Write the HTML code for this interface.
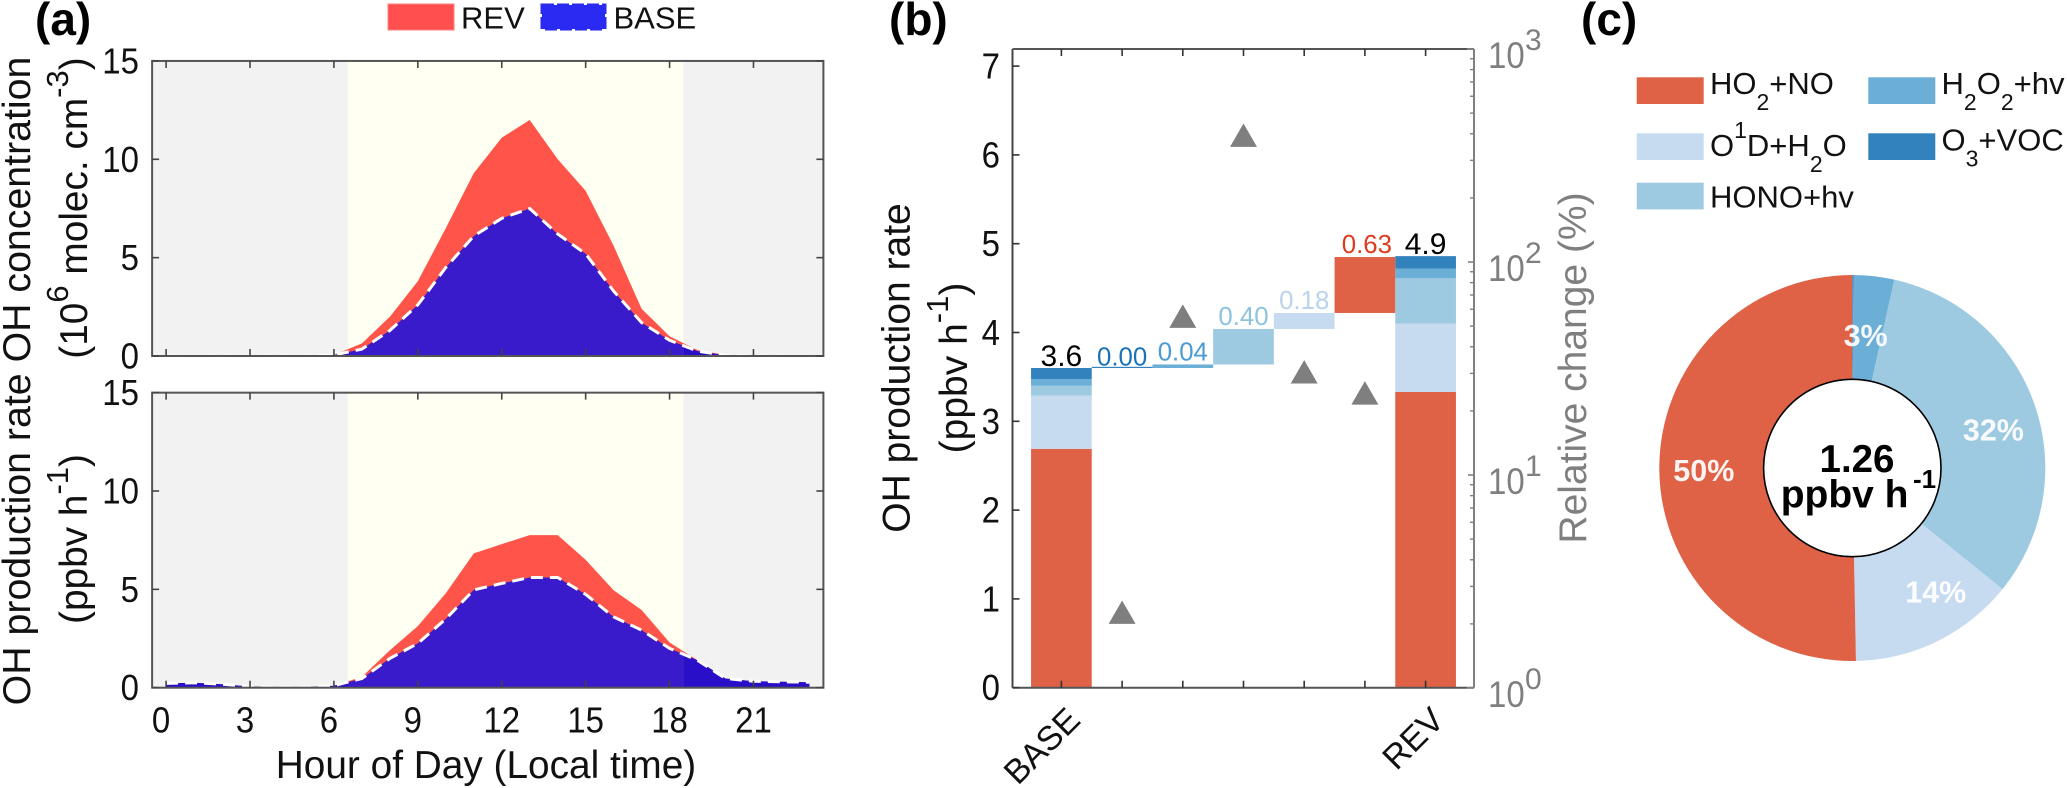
<!DOCTYPE html>
<html lang="en">
<head>
<meta charset="utf-8">
<title>OH concentration and production rate</title>
<style>
html,body{margin:0;padding:0;background:#fff;width:2067px;height:788px;overflow:hidden}
svg{display:block;font-family:"Liberation Sans",sans-serif}
</style>
</head>
<body>
<svg id="fig" xmlns="http://www.w3.org/2000/svg" width="2067" height="788" viewBox="0 0 2067 788">
  <defs>
    <linearGradient id="baseFill" gradientUnits="userSpaceOnUse" x1="152" x2="824" y1="0" y2="0">
      <stop offset="0" stop-color="#2A0FC8"/><stop offset="0.292" stop-color="#2A0FC8"/>
      <stop offset="0.292" stop-color="#3A1BCC"/><stop offset="0.792" stop-color="#3A1BCC"/>
      <stop offset="0.792" stop-color="#2A0FC8"/><stop offset="1" stop-color="#2A0FC8"/>
    </linearGradient>
  </defs>
  <g id="layer-a"></g>
  <g id="layer-b"></g>
  <g id="layer-c"></g>

  <g font-weight="bold" font-size="46" fill="#000">
    <text x="35" y="35">(a)</text>
    <text x="889" y="35">(b)</text>
    <text x="1581" y="35">(c)</text>
  </g>

  <g font-size="31" fill="#111">
    <rect x="388" y="4" width="66" height="26" fill="#FF4F4F" stroke="#FF8080" stroke-width="1"/>
    <text x="461" y="28.5">REV</text>
    <rect x="542" y="5" width="63" height="24" fill="#2A2AF2" stroke="#2A2AF2" stroke-width="3" stroke-dasharray="12 3"/>
    <text x="613.5" y="28.5">BASE</text>
  </g>

  <g font-size="38.8" fill="#111">
    <text font-size="39.3" transform="translate(30,381) rotate(-90)" text-anchor="middle">OH production rate OH concentration</text>
    <text transform="translate(87,208) rotate(-90)" text-anchor="middle">(10<tspan font-size="31" dy="-19">6</tspan><tspan dy="19"> molec. cm</tspan><tspan font-size="31" dy="-19">-3</tspan><tspan dy="19">)</tspan></text>
    <text transform="translate(87,539) rotate(-90)" text-anchor="middle">(ppbv h<tspan font-size="31" dy="-19">-1</tspan><tspan dy="19">)</tspan></text>
    <text x="486" y="778" text-anchor="middle">Hour of Day (Local time)</text>
  </g>

  <g font-size="39">
    <text fill="#111" transform="translate(909.5,368) rotate(-90)" text-anchor="middle">OH production rate</text>
    <text fill="#111" transform="translate(967,368) rotate(-90)" text-anchor="middle">(ppbv h<tspan font-size="31" dy="-19">-1</tspan><tspan dy="19">)</tspan></text>
    <text fill="#7f7f7f" transform="translate(1586,368) rotate(-90)" text-anchor="middle">Relative change (%)</text>
  </g>

  <g font-size="31" fill="#111">
    <text x="1710" y="94">HO<tspan font-size="23" dy="16">2</tspan><tspan dy="-16">+NO</tspan></text>
    <text x="1710" y="156">O<tspan font-size="23" dy="-18">1</tspan><tspan dy="18">D+H</tspan><tspan font-size="23" dy="16">2</tspan><tspan dy="-16">O</tspan></text>
    <text x="1710" y="207.5">HONO+hv</text>
    <text x="1941.5" y="94">H<tspan font-size="23" dy="16">2</tspan><tspan dy="-16">O</tspan><tspan font-size="23" dy="16">2</tspan><tspan dy="-16">+hv</tspan></text>
    <text x="1941.5" y="150.5">O<tspan font-size="23" dy="16">3</tspan><tspan dy="-16">+VOC</tspan></text>
  </g>
</svg>

<script>
// ---------- Panel (a) data ----------
const hours = [0,1,2,3,4,5,6,7,8,9,10,11,12,13,14,15,16,17,18,19,20,21,22,23];
const concRev  = [0,0,0,0,0,0,0.05,0.64,2.0,3.8,6.5,9.3,11.1,12.0,10.0,8.4,5.6,2.4,1.0,0.3,0.05,0,0,0];
const concBase = [0,0,0,0,0,0,0.05,0.35,1.3,2.6,4.5,6.1,7.0,7.5,6.2,5.2,3.3,1.7,0.8,0.25,0.03,0,0,0];
const rateRev  = [0.22,0.25,0.18,0.06,0.03,0.03,0.1,0.55,1.9,3.13,4.8,6.83,7.3,7.76,7.76,6.5,4.95,3.95,2.3,1.4,0.47,0.33,0.3,0.28];
const rateBase = [0.22,0.25,0.18,0.06,0.03,0.03,0.1,0.47,1.49,2.25,3.5,4.97,5.3,5.6,5.6,4.75,3.6,2.93,2.0,1.4,0.47,0.33,0.3,0.28];
const hourTicks = [0,3,6,9,12,15,18,21];
const valueTicks = [0,5,10,15];

// ---------- Panel (b) data ----------
const barTicks = [1,2,3,4,5,6,7];
const rateTicks = [0,1,2,3,4,5,6,7];
const sources = ['HO2+NO','O1D+H2O','HONO+hv','H2O2+hv','O3+VOC'];
const sourceColors = ['#DF6247','#C6DBEF','#9ECAE1','#6BAED6','#3182BD'];
const baseStack = [2.69,0.60,0.11,0.076,0.124];
const revStack  = [3.33,0.77,0.51,0.11,0.14];
const stepValues = [0.00,0.04,0.40,0.18,0.63];
const stepLabels = ['0.00','0.04','0.40','0.18','0.63'];
const stepSource = [4,3,2,1,0];
const stepLabelColors = ['#1A72B8','#4A9BD4','#8CC3DF','#B9D3EC','#DD3A1E'];
const totalLabels = ['3.6','4.9'];
const relativeChange = [2.27,55.7,394,30.5,24.3];
const logDecades = [0,1,2,3];
const logMinors = [2,3,4,5,6,7,8,9];

// ---------- Panel (c) data ----------
const donutNames = ['O3+VOC','H2O2+hv','HONO+hv','O1D+H2O','HO2+NO'];
const donutColors = ['#3182BD','#6BAED6','#9ECAE1','#C6DBEF','#DF6247'];
const donutShares = [0.1,3.4,32.3,13.9,50.3];
const donutLabels = ['','3%','32%','14%','50%'];

// ---------- Axis functions ----------
const hx = h => 166.1 + 27.97 * h;
const ya1 = v => 356 - 19.67 * v;
const ya2 = v => 687.7 - 19.67 * v;
const bx = c => 1061.4 + 60.7 * (c - 1);
const by = v => 687.7 - 88.8 * v;
const ly = p => 688 - 213 * Math.log10(p);

const NS = 'http://www.w3.org/2000/svg';
function mk(tag, attrs, parent) {
  const el = document.createElementNS(NS, tag);
  for (const k in attrs) el.setAttribute(k, attrs[k]);
  parent.appendChild(el);
  return el;
}
function areaPath(xs, ys, baseY) {
  let d = 'M' + xs[0].toFixed(1) + ' ' + baseY;
  xs.forEach((x, i) => { d += 'L' + x.toFixed(1) + ' ' + ys[i].toFixed(1); });
  return d + 'L' + xs[xs.length - 1].toFixed(1) + ' ' + baseY + 'Z';
}
function linePath(xs, ys) {
  return xs.map((x, i) => (i ? 'L' : 'M') + x.toFixed(1) + ' ' + ys[i].toFixed(1)).join('');
}

// ---------- Panel (a) ----------
const layerA = document.getElementById('layer-a');
function drawHourPanel(yf, rev, base, key) {
  const left = hx(-0.5), right = hx(23.5), top = yf(15), bottom = yf(0);
  const dayStart = hx(6.5), dayEnd = hx(18.5);
  const g = mk('g', {}, layerA);
  
  

  const nightA = mk('rect', {x:left, y:top, width:dayStart-left, height:bottom-top, fill:'#F2F2F2'}, g);
  
  
  const day = mk('rect', {x:dayStart, y:top, width:dayEnd-dayStart, height:bottom-top, fill:'#FFFFF2'}, g);
  
  
  const nightB = mk('rect', {x:dayEnd, y:top, width:right-dayEnd, height:bottom-top, fill:'#F2F2F2'}, g);
  
  

  const xs = hours.map(hx);
  const revArea = mk('path', {d:areaPath(xs, rev.map(yf), bottom), fill:'#FF5449'}, g);
  
  
  const baseArea = mk('path', {d:areaPath(xs, base.map(yf), bottom), fill:'url(#baseFill)'}, g);
  
  
  const baseLine = mk('path', {d:linePath(xs, base.map(yf)), fill:'none', stroke:'#fff', 'stroke-width':3, 'stroke-dasharray':'12 7'}, g);
  
  

  const frame = mk('rect', {x:left, y:top, width:right-left, height:bottom-top, fill:'none', stroke:'#555', 'stroke-width':2}, g);
  
  

  hourTicks.forEach(h => {
    const t1 = mk('line', {x1:hx(h), x2:hx(h), y1:bottom, y2:bottom-7, stroke:'#444', 'stroke-width':1.6}, g);
    
    
    const t2 = mk('line', {x1:hx(h), x2:hx(h), y1:top, y2:top+7, stroke:'#444', 'stroke-width':1.6}, g);
    
    
  });
  valueTicks.forEach(v => {
    const t1 = mk('line', {x1:left, x2:left+7, y1:yf(v), y2:yf(v), stroke:'#444', 'stroke-width':1.6}, g);
    
    
    const t2 = mk('line', {x1:right, x2:right-7, y1:yf(v), y2:yf(v), stroke:'#444', 'stroke-width':1.6}, g);
    
    
    const lab = mk('text', {transform:'translate(139,' + (yf(v)+12.5) + ') scale(1,1.1)', 'text-anchor':'end', 'font-size':33, fill:'#111'}, g);
    
    
    lab.textContent = v;
  });
}
drawHourPanel(ya1, concRev, concBase, 'concentration');
drawHourPanel(ya2, rateRev, rateBase, 'production-rate');
hourTicks.forEach(h => {
  const nudge = h < 10 ? -5 : 0;
  const lab = mk('text', {transform:'translate(' + (hx(h) + nudge) + ',732.5) scale(1,1.1)', 'text-anchor':'middle', 'font-size':33, fill:'#111'}, layerA);
  
  
  lab.textContent = h;
});

// ---------- Panel (b) ----------
const layerB = document.getElementById('layer-b');
const halfBar = 0.5;
function drawStack(c, stack, key) {
  let acc = 0;
  stack.forEach((v, i) => {
    const r = mk('rect', {x:bx(c-halfBar), y:by(acc+v), width:bx(c+halfBar)-bx(c-halfBar), height:by(acc)-by(acc+v), fill:sourceColors[i]}, layerB);
    
    
    acc += v;
  });
  return acc;
}
const baseTotal = drawStack(1, baseStack, 'base');
const revTotal = drawStack(7, revStack, 'rev');

let running = baseTotal;
stepValues.forEach((v, i) => {
  const c = i + 2;
  const h = Math.max(by(running) - by(running + v), 1.2);
  const r = mk('rect', {x:bx(c-halfBar), y:by(running)-h, width:bx(c+halfBar)-bx(c-halfBar), height:h, fill:sourceColors[stepSource[i]]}, layerB);
  
  
  running += v;
  const lab = mk('text', {x:bx(c)+ (i===4?2:0), y:by(running)-(i===0?2.5:4), 'text-anchor':'middle', 'font-size':25.8, fill:stepLabelColors[i]}, layerB);
  
  
  lab.textContent = stepLabels[i];
});

[[1, baseTotal], [7, revTotal]].forEach((p, i) => {
  const lab = mk('text', {x:bx(p[0]), y:by(p[1])-2, 'text-anchor':'middle', 'font-size':30, fill:'#000'}, layerB);
  
  
  lab.textContent = totalLabels[i];
});

relativeChange.forEach((p, i) => {
  const cx = bx(i + 2), cy = ly(p);
  const tri = mk('polygon', {points:(cx-13.5)+','+(cy+11.7)+' '+(cx+13.5)+','+(cy+11.7)+' '+cx+','+(cy-11.7), fill:'#7F7F7F'}, layerB);
  
  
});

const bLeft = 1012.5, bRight = 1474, bTop = 49, bBottom = 687.7;
const axisLines = [
  ['left-axis', bLeft, bTop, bLeft, bBottom, '#444'],
  ['top-axis', bLeft, bTop, bRight-7, bTop, '#555'],
  ['bottom-axis', bLeft, bBottom, bRight-7, bBottom, '#555'],
  ['right-axis', bRight, bTop, bRight, bBottom, '#808080'],
  ['right-axis-top-cap', bRight-7, bTop, bRight, bTop, '#808080'],
  ['right-axis-bottom-cap', bRight-7, bBottom, bRight, bBottom, '#808080']
];
axisLines.forEach(a => {
  const l = mk('line', {x1:a[1], y1:a[2], x2:a[3], y2:a[4], stroke:a[5], 'stroke-width':2}, layerB);
  
  
});
barTicks.forEach(c => {
  const t1 = mk('line', {x1:bx(c), x2:bx(c), y1:bBottom, y2:bBottom-7, stroke:'#333', 'stroke-width':1.6}, layerB);
  
  
  const t2 = mk('line', {x1:bx(c), x2:bx(c), y1:bTop, y2:bTop+7, stroke:'#333', 'stroke-width':1.6}, layerB);
  
  
});
rateTicks.forEach(v => {
  const t = mk('line', {x1:bLeft, x2:bLeft+7, y1:by(v), y2:by(v), stroke:'#333', 'stroke-width':1.6}, layerB);
  
  
  const lab = mk('text', {transform:'translate(1000,' + (by(v)+12.5) + ') scale(1,1.1)', 'text-anchor':'end', 'font-size':33, fill:'#111'}, layerB);
  
  
  lab.textContent = v;
});
logDecades.forEach(k => {
  const p = Math.pow(10, k);
  const t = mk('line', {x1:bRight, x2:bRight-6, y1:ly(p), y2:ly(p), stroke:'#808080', 'stroke-width':1.6}, layerB);
  
  
  const lab = mk('text', {transform:'translate(1488,' + (ly(p)+19) + ') scale(1,1.12)', 'font-size':33, fill:'#7f7f7f'}, layerB);
  
  
  lab.textContent = '10';
  const sup = mk('text', {x:1525, y:ly(p)+1, 'font-size':30, fill:'#7f7f7f'}, layerB);
  
  
  sup.textContent = k;
  if (k < 3) {
    logMinors.forEach(m => {
      const mt = mk('line', {x1:bRight, x2:bRight-4, y1:ly(m*p), y2:ly(m*p), stroke:'#808080', 'stroke-width':1.4}, layerB);
      
      
    });
  }
});
const baseCat = mk('text', {transform:'translate(1082,722) rotate(-45)', 'text-anchor':'end', 'font-size':34, fill:'#111'}, layerB);


baseCat.textContent = 'BASE';
const revCat = mk('text', {transform:'translate(1446,722) rotate(-45)', 'text-anchor':'end', 'font-size':34, fill:'#111'}, layerB);


revCat.textContent = 'REV';

// ---------- Panel (c) ----------
const layerC = document.getElementById('layer-c');
const legendSwatches = [
  [0, 1636.7, 77.3], [1, 1636.7, 133.3], [2, 1636.7, 182.7], [3, 1868.3, 77.3], [4, 1868.3, 133.3]
];
legendSwatches.forEach(s => {
  const r = mk('rect', {x:s[1], y:s[2], width:67, height:26.7, fill:sourceColors[s[0]]}, layerC);
  
  
});

const dcx = 1852.3, dcy = 468, dR = 193, dr = 88.7;
const polar = (frac, rad) => [dcx + rad * Math.sin(2 * Math.PI * frac), dcy - rad * Math.cos(2 * Math.PI * frac)];
const shareTotal = donutShares.reduce((a, b) => a + b, 0);
let cum = 0;
donutShares.forEach((s, i) => {
  const f0 = cum / shareTotal, f1 = (cum + s) / shareTotal;
  const a = polar(f0, dR), b = polar(f1, dR);
  const large = f1 - f0 > 0.5 ? 1 : 0;
  const p = mk('path', {d:'M' + dcx + ' ' + dcy + 'L' + a[0] + ' ' + a[1] + 'A' + dR + ' ' + dR + ' 0 ' + large + ' 1 ' + b[0] + ' ' + b[1] + 'Z', fill:donutColors[i]}, layerC);
  
  
  cum += s;
});
const hole = mk('circle', {cx:dcx, cy:dcy, r:dr, fill:'#fff', stroke:'#000', 'stroke-width':1.6}, layerC);



// Layout nudges for the percentage labels relative to each slice's midpoint.
function labelNudge(i) {
  if (i === 1) return [-2.6, 7];
  if (i === 2) return [8, 8];
  if (i === 3) return [21.4, -3.3];
  return [-7.5, 0.7];
}
cum = 0;
donutShares.forEach((s, i) => {
  const mid = (cum + s / 2) / shareTotal;
  cum += s;
  if (!donutLabels[i]) return;
  const pos = polar(mid, 141);
  const nudge = labelNudge(i);
  const lab = mk('text', {x:pos[0] + nudge[0], y:pos[1] + 11 + nudge[1], 'text-anchor':'middle', 'font-size':30.5, 'font-weight':'bold', fill:'#fff', 'fill-opacity':0.93}, layerC);
  
  
  lab.textContent = donutLabels[i];
});

const centerValue = mk('text', {x:1857, y:472, 'text-anchor':'middle', 'font-size':38.5, 'font-weight':'bold', fill:'#000'}, layerC);


centerValue.textContent = '1.26';
const centerUnit = mk('text', {x:1780.7, y:507.7, 'font-size':39, 'font-weight':'bold', fill:'#000'}, layerC);


centerUnit.textContent = 'ppbv h';
const centerSup = mk('text', {x:1913, y:488, 'font-size':26, 'font-weight':'bold', fill:'#000'}, layerC);


centerSup.textContent = '-1';
</script>
</body>
</html>
